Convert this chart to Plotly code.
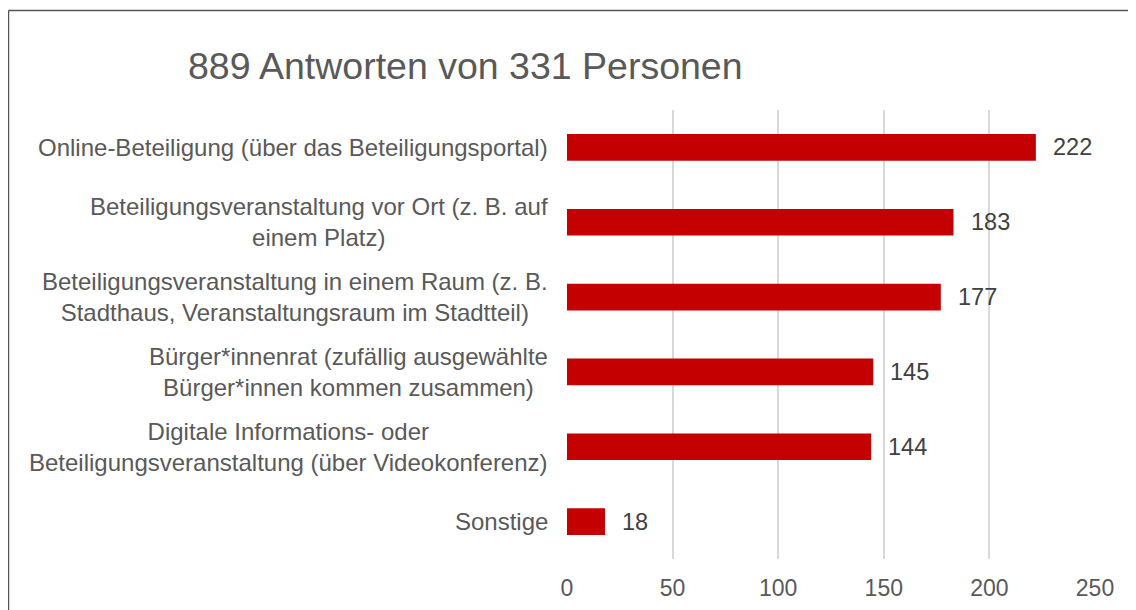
import plotly.graph_objects as go

categories = [
    "Online-Beteiligung (über das Beteiligungsportal)",
    "Beteiligungsveranstaltung vor Ort (z. B. auf<br>einem Platz)",
    "Beteiligungsveranstaltung in einem Raum (z. B.<br>Stadthaus, Veranstaltungsraum im Stadtteil)",
    "Bürger*innenrat (zufällig ausgewählte<br>Bürger*innen kommen zusammen)",
    "Digitale Informations- oder<br>Beteiligungsveranstaltung (über Videokonferenz)",
    "Sonstige",
]
values = [222, 183, 177, 145, 144, 18]
x_ticks = [0, 50, 100, 150, 200, 250]
title_text = "889 Antworten von 331 Personen"

FONT = "Liberation Sans, Arial, sans-serif"
GREY = "#595959"

# page body has an 8px default margin; work in reference pixel coords minus 8
OFF = 8
W, H = 1136 - OFF, 610 - OFF
L, T = 567 - OFF, 110 - OFF
R = W - (1095 - OFF)
B = H - (559 - OFF)
pw, ph = W - L - R, H - T - B

def px_to_paper_x(px):
    return (px - OFF - L) / pw

def px_to_paper_y(py):
    return (H - B - (py - OFF)) / ph

fig = go.Figure()
fig.add_trace(go.Bar(
    x=values,
    y=categories,
    orientation="h",
    marker=dict(color="#C40000", line=dict(width=0)),
    hoverinfo="x+y",
))

annotations = []
for cat in categories:
    annotations.append(dict(
        x=0, xref="paper", y=cat, yref="y",
        text=cat, showarrow=False, xanchor="right", yanchor="middle",
        align="center", xshift=-17,
        font=dict(family=FONT, size=24, color=GREY),
    ))
for cat, v in zip(categories, values):
    annotations.append(dict(
        x=v, xref="x", y=cat, yref="y",
        text=str(v), showarrow=False, xanchor="left", yanchor="middle",
        xshift=15,
        font=dict(family=FONT, size=23.5, color="#404040"),
    ))

bx = px_to_paper_x(8.5)
by = px_to_paper_y(10.5)
shapes = [
    dict(type="line", xref="paper", yref="paper", x0=bx, x1=bx, y0=-0.3, y1=by,
         line=dict(color="#555555", width=1.5)),
    dict(type="line", xref="paper", yref="paper", x0=bx, x1=1.2, y0=by, y1=by,
         line=dict(color="#555555", width=1.5)),
]

fig.update_layout(
    width=W, height=H,
    margin=dict(l=L, r=R, t=T, b=B, pad=0, autoexpand=False),
    paper_bgcolor="white", plot_bgcolor="white",
    showlegend=False,
    bargap=0.643,
    title=dict(
        text=title_text, xref="container", yref="container",
        x=(188 - OFF) / W, xanchor="left", y=1 - (66 - OFF) / H, yanchor="middle",
        font=dict(family=FONT, size=37.5, color=GREY),
    ),
    xaxis=dict(
        range=[0, 250], tickvals=x_ticks, ticktext=[str(t) for t in x_ticks],
        showgrid=True, gridcolor="#D9D9D9", gridwidth=1.5,
        zeroline=False, showline=False, automargin=False,
        ticks="outside", ticklen=8, tickcolor="rgba(0,0,0,0)",
        tickfont=dict(family=FONT, size=23, color=GREY),
        fixedrange=True,
    ),
    yaxis=dict(
        autorange="reversed", showticklabels=False, showgrid=False,
        zeroline=False, showline=False, ticks="", fixedrange=True,
        automargin=False,
    ),
    annotations=annotations,
    shapes=shapes,
)

fig.write_html("out.html")
